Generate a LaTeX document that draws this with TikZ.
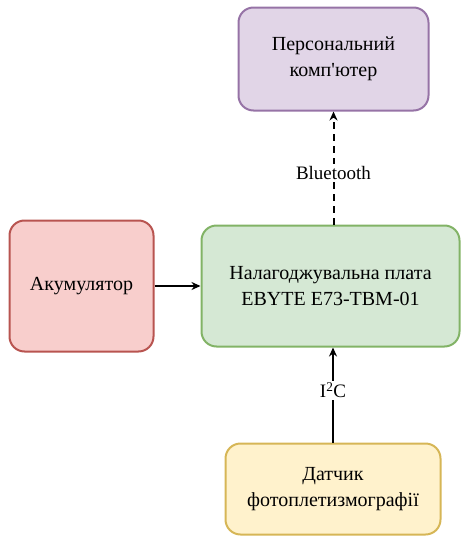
\documentclass[tikz,border=0pt]{standalone}
\usepackage{fontspec}
\setmainfont{Liberation Serif}
\usepackage{xcolor}
\usepackage{tikz}
\usetikzlibrary{arrows.meta, positioning, calc}
\definecolor{pcfill}{HTML}{E1D5E7}
\definecolor{pcdraw}{HTML}{9673A6}
\definecolor{batfill}{HTML}{F8CECC}
\definecolor{batdraw}{HTML}{B85450}
\definecolor{boardfill}{HTML}{D5E8D4}
\definecolor{boarddraw}{HTML}{82B366}
\definecolor{sensfill}{HTML}{FFF2CC}
\definecolor{sensdraw}{HTML}{D6B656}
\tikzstyle{block} = [rectangle, rounded corners=15pt, line width=2pt, align=center, font=\fontsize{20}{26}\selectfont]
\tikzstyle{line} = [draw, -{Stealth[length=9pt, width=8pt]}, line width=2pt, black]
\tikzstyle{dashedline} = [draw, -{Stealth[length=9pt, width=8pt]}, dash pattern=on 7pt off 5pt, line width=2pt, black]
\tikzstyle{lbl} = [fill=white, inner sep=2pt, font=\fontsize{19}{23}\selectfont]

\begin{document}
\begin{tikzpicture}[x=1pt, y=-1pt]
    \useasboundingbox (0,0) rectangle (461,538);
    \node (pc) [block, fill=pcfill, draw=pcdraw, minimum width=190pt, minimum height=103pt] at (333.5,59) {Персональний\\комп\textquotesingle ютер};
    \node (bat) [block, fill=batfill, draw=batdraw, minimum width=144pt, minimum height=131pt] at (81.5,286) {Акумулятор};
    \node (board) [block, fill=boardfill, draw=boarddraw, minimum width=258pt, minimum height=121pt] at (330.5,286) {Налагоджувальна плата\\EBYTE E73-TBM-01};
    \node (sens) [block, fill=sensfill, draw=sensdraw, minimum width=215pt, minimum height=91pt] at (333,489) {Датчик\\фотоплетизмографії};

    \draw [line] (bat) -- (board);
    \draw [dashedline] (pc |- board.north) -- node[lbl, pos=0.46] {Bluetooth} (pc);
    \draw [line] (sens) -- node[lbl, pos=0.55] {I\textsuperscript{2}C} (sens |- board.south);
\end{tikzpicture}
\end{document}
